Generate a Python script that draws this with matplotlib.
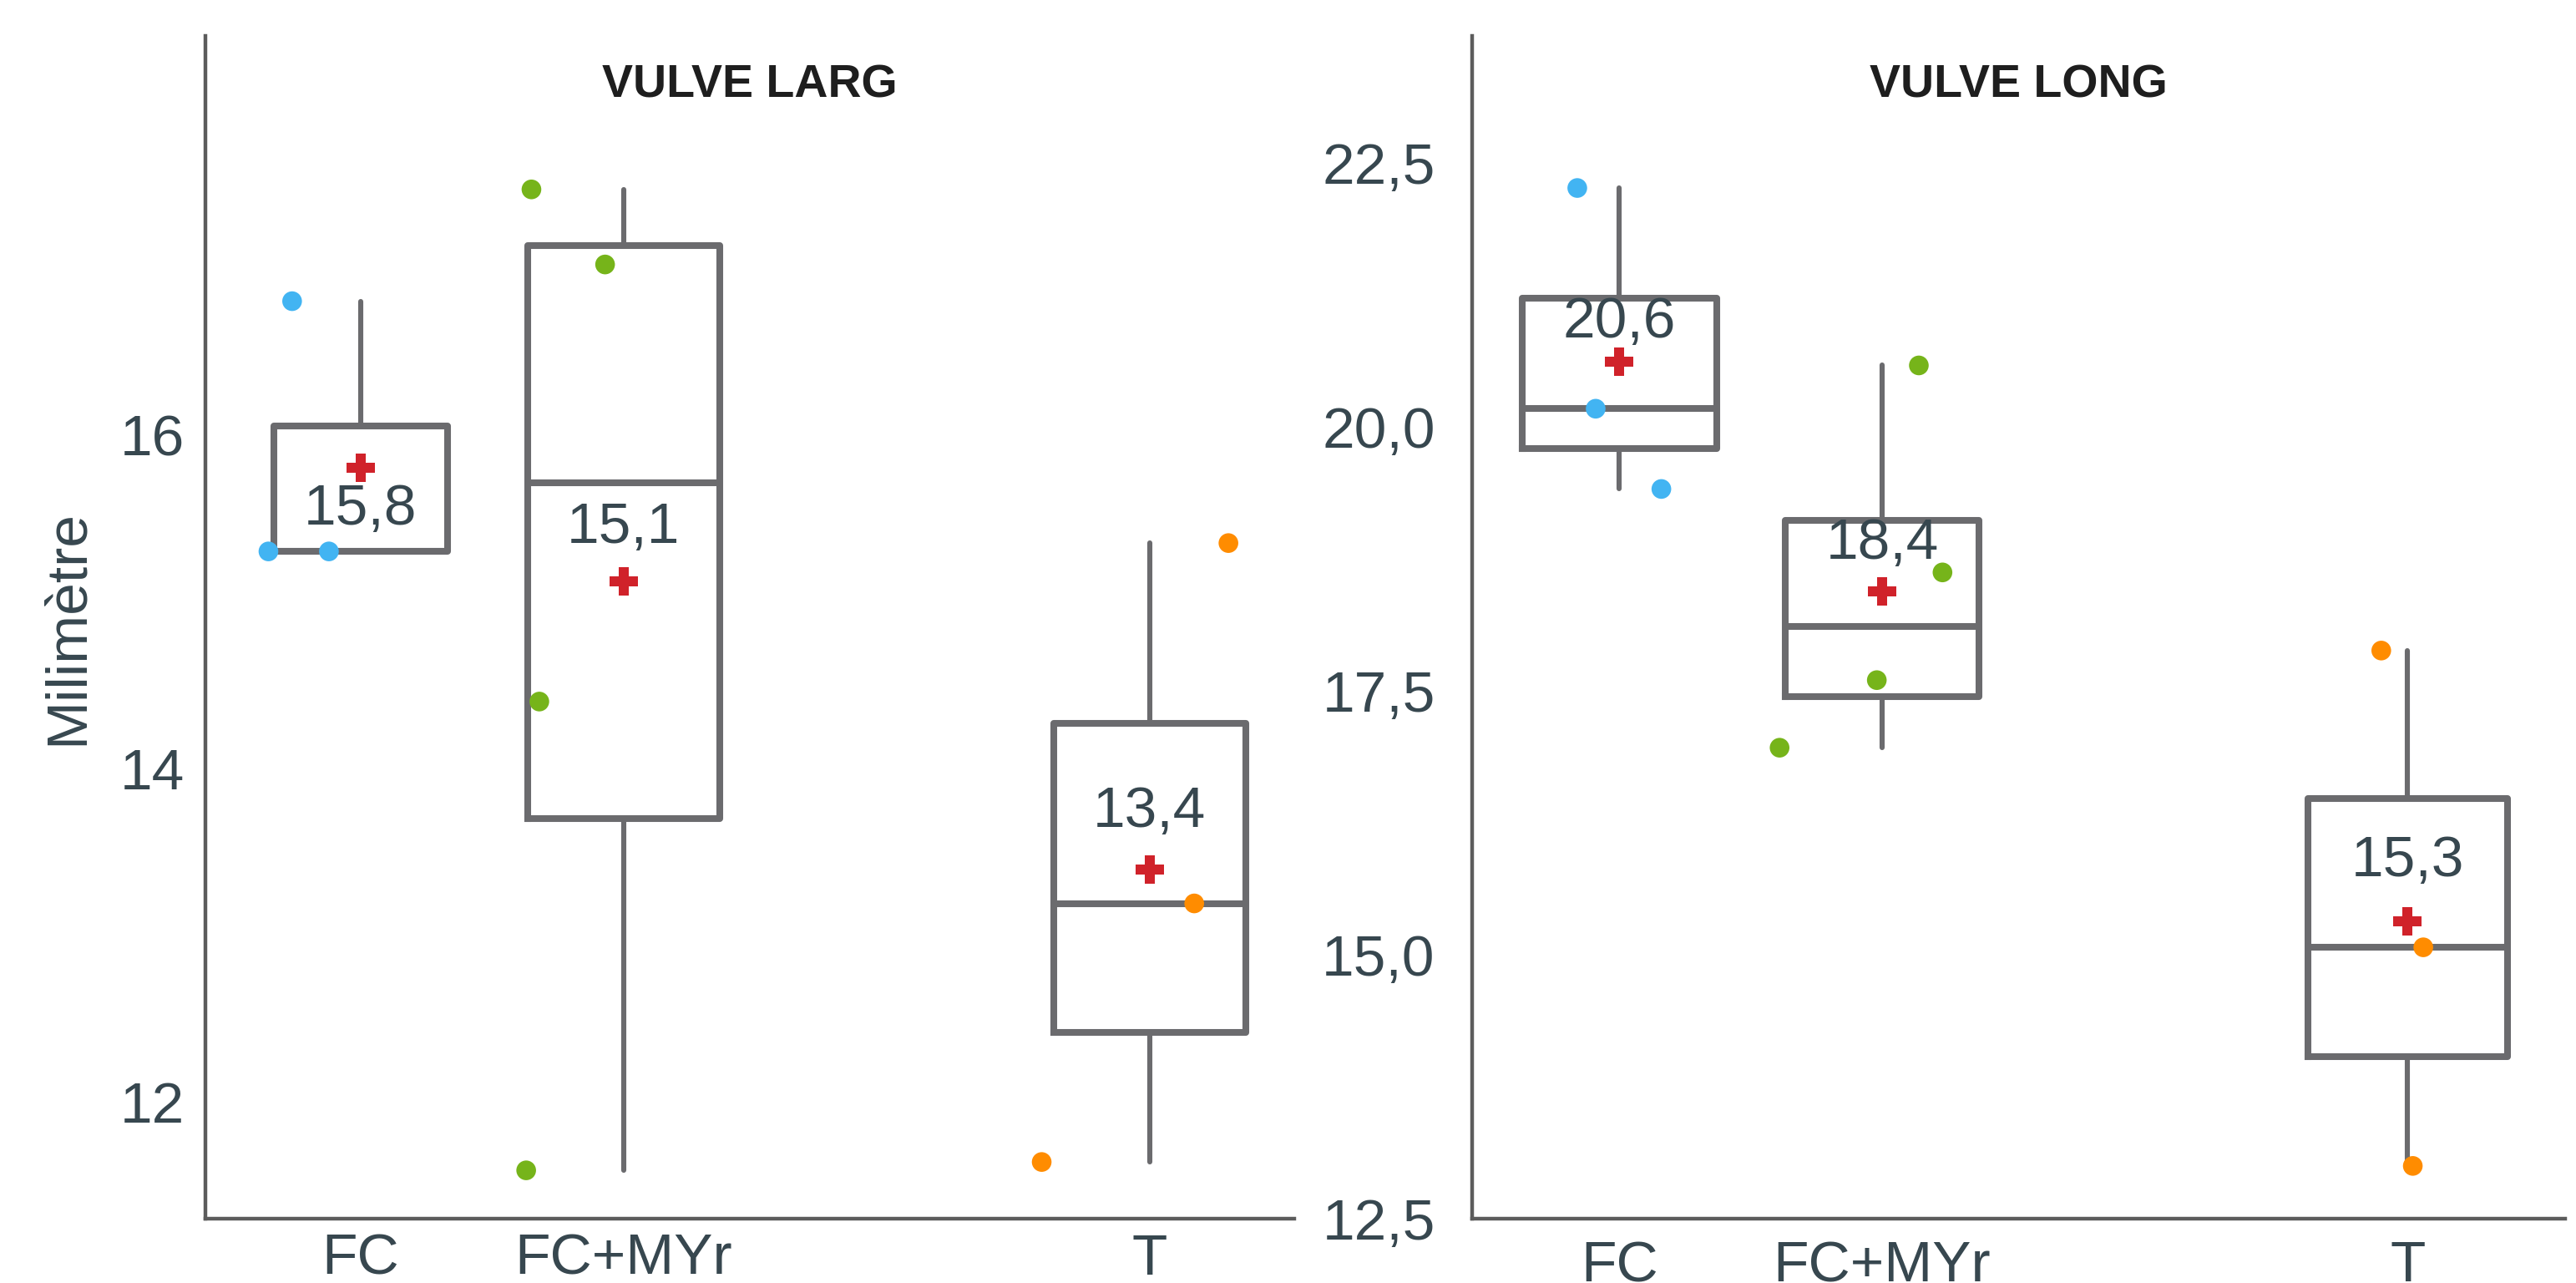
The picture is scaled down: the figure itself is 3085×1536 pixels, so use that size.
import numpy as np
import matplotlib.pyplot as plt
from matplotlib.ticker import FuncFormatter

plt.rcParams['font.family'] = ['Liberation Sans', 'DejaVu Sans']

# données (mm)
cats = ["FC", "FC+MYr", "T"]
larg_fc = [16.8, 15.3, 15.3]
larg_fcmyr = [17.47, 17.02, 14.40, 11.59]
larg_t = [15.35, 13.19, 11.64]
long_fc = [22.26, 20.17, 19.41]
long_fcmyr = [20.58, 18.62, 17.60, 16.96]
long_t = [17.88, 15.07, 13.00]

# décalage horizontal des points (jitter)
jit_larg = [[-0.26, -0.35, -0.12], [-0.35, -0.07, -0.32, -0.37], [0.30, 0.17, -0.41]]
jit_long = [[-0.16, -0.09, 0.16], [0.14, 0.23, -0.02, -0.39], [-0.10, 0.06, 0.02]]

pos = [0, 1, 3]
dot_colors = ['#42b4f2', '#76b41a', '#ff8c00']
box_col = '#6b6b6e'
txt_col = '#37474f'


def comma(v, p=None, nd=1):
    return f"{v:.{nd}f}".replace(".", ",")


def panel(ax, groups, jits, title, widths, lab_off, xlim, ylim, ytick, ynd):
    ax.boxplot(groups, positions=pos, widths=widths, whis=(0, 100),
               showfliers=False, patch_artist=False,
               boxprops=dict(color=box_col, linewidth=2.9),
               medianprops=dict(color=box_col, linewidth=2.9),
               whiskerprops=dict(color=box_col, linewidth=2.2, solid_capstyle='round'),
               capprops=dict(linewidth=0), zorder=2)
    for i, (g, j) in enumerate(zip(groups, jits)):
        ax.scatter(np.array(j) + pos[i], g, s=72, color=dot_colors[i],
                   edgecolors='none', zorder=4)
        m = np.mean(g)
        ax.plot(pos[i], m, marker='P', markersize=12, color='#d0222a',
                markeredgewidth=0, zorder=5)
        ax.annotate(comma(m), (pos[i], m), xytext=(0, lab_off[i]),
                    textcoords='offset points', ha='center', va='center',
                    fontsize=25, color=txt_col, zorder=6)
    ax.set_xlim(*xlim)
    ax.set_ylim(*ylim)
    ax.set_xticks(pos)
    ax.set_xticklabels(cats)
    ax.set_yticks(ytick)
    ax.yaxis.set_major_formatter(FuncFormatter(lambda v, p: comma(v, nd=ynd)))
    ax.tick_params(length=0, labelsize=25, labelcolor=txt_col)
    for s in ['top', 'right']:
        ax.spines[s].set_visible(False)
    for s in ['left', 'bottom']:
        ax.spines[s].set_color('#5c5c5c')
        ax.spines[s].set_linewidth(1.6)
    ax.text(0.5, 0.958, title, transform=ax.transAxes, ha='center', va='center',
            fontsize=20, fontweight='bold', color='#1e1e1e')


fig = plt.figure(figsize=(15.425, 7.68), dpi=200)
ax1 = fig.add_axes([0.0797, 0.0501, 0.4227, 0.9219])
ax2 = fig.add_axes([0.5715, 0.0501, 0.4243, 0.9219])

panel(ax1, [larg_fc, larg_fcmyr, larg_t], jit_larg, "VULVE LARG",
      [0.66, 0.73, 0.73], [-18, 23, 25], (-0.59, 3.55), (11.30, 18.39),
      [12, 14, 16], 0)
panel(ax2, [long_fc, long_fcmyr, long_t], jit_long, "VULVE LONG",
      [0.74, 0.74, 0.76], [17, 20.5, 26], (-0.56, 3.6), (12.52, 23.70),
      [12.5, 15.0, 17.5, 20.0, 22.5], 1)

ax1.tick_params(axis='x', pad=6)
ax1.tick_params(axis='y', pad=9)
ax2.tick_params(axis='x', pad=9)
ax2.tick_params(axis='y', pad=16)
ax1.set_ylabel("Milimètre", fontsize=25, color=txt_col)
ax1.yaxis.set_label_coords(-0.102, 0.5)

plt.savefig('out.png', dpi=200, facecolor='white')
